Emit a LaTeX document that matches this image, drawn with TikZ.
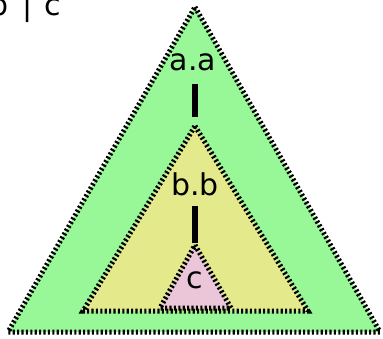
\documentclass[tikz,border=0pt]{standalone}
\usepackage{fontspec}
\setsansfont{DejaVu Sans}
\usetikzlibrary{positioning}
\definecolor{NestGreen}{RGB}{152,248,152}
\definecolor{NestYellow}{RGB}{228,234,140}
\definecolor{NestPink}{RGB}{234,198,216}

\begin{document}
\begin{tikzpicture}[
    x=1pt, y=-1pt,
    tri/.style={
      draw=black,
      line width=5pt,
      dash pattern=on 2.1pt off 2.3pt
    },
    lbl/.style={
      font=\sffamily\fontsize{30}{36}\selectfont,
      inner sep=0pt,
      anchor=base
    },
    edge/.style={line width=6pt}
  ]
    \useasboundingbox (0,0) rectangle (383,338);

    % nested triangles
    \coordinate (outer-apex) at (195,7);
    \coordinate (mid-apex) at (195,126);
    \coordinate (inner-apex) at (195,245);
    \draw[tri, fill=NestGreen] (outer-apex) -- (380,332) -- (8,332) -- cycle;
    \draw[tri, fill=NestYellow] (mid-apex) -- (308,311) -- (83,311) -- cycle;
    \draw[tri, fill=NestPink] (inner-apex) -- (231,308) -- (160,308) -- cycle;

    % labels
    \node[lbl] (aa) at (193,70) {a.a};
    \node[lbl] (bb) at (195,195) {b.b};
    \node[lbl] (cc) at (195,288) {c};
    \node[lbl, anchor=base east] (top-label) at (61,15)
      {b\hspace{14pt}|\hspace{12pt}c};

    \draw[edge, shorten <=13pt, shorten >=9pt] (aa.south -| mid-apex) -- (mid-apex);
    \draw[edge, shorten <=10pt, shorten >=2pt] (bb.south -| inner-apex) -- (inner-apex);
  \end{tikzpicture}
\end{document}
